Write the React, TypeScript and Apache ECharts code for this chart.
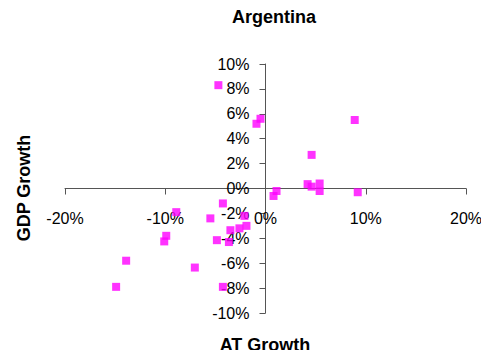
import React, { useEffect, useRef } from "react";
import * as echarts from "echarts";

const chartTitle = "Argentina";
const xTitle = "AT Growth";
const yTitle = "GDP Growth";

// AT growth (x) and GDP growth (y), as fractions
const atGrowth = [
  -0.047, -0.009, -0.005, 0.089, 0.046, 0.042, 0.046, 0.054, 0.054, 0.092,
  0.011, 0.008, -0.0425, -0.089, -0.055, -0.021, -0.019, -0.035, -0.026,
  -0.0485, -0.0365, -0.099, -0.101, -0.139, -0.0705, -0.149, -0.0425,
];
const gdpGrowth = [
  0.083, 0.052, 0.056, 0.055, 0.027, 0.0035, 0.0015, 0.004, -0.002, -0.003,
  -0.002, -0.006, -0.012, -0.019, -0.024, -0.022, -0.03, -0.0335, -0.032,
  -0.0415, -0.043, -0.038, -0.0425, -0.058, -0.0635, -0.079, -0.079,
];

const xMin = -0.2, xMax = 0.2, xStep = 0.1;
const yMin = -0.1, yMax = 0.1, yStep = 0.02;

const pct = (v: number) => `${Math.round(v * 100)}%`;

const W = 489, H = 358;
const G = { left: 65, right: 23, top: 64, bottom: 45 };
// axes cross at (0,0): shift each axis from the grid edge to the zero line
const gridW = W - G.left - G.right;
const gridH = H - G.top - G.bottom;
const xAxisOffset = -gridH * ((0 - yMin) / (yMax - yMin));
const yAxisOffset = -gridW * ((0 - xMin) / (xMax - xMin));

export default function App() {
  const ref = useRef<HTMLDivElement>(null);
  useEffect(() => {
    if (!ref.current) return;
    const chart = echarts.init(ref.current, undefined, { renderer: "svg" });
    const font = "'Liberation Sans', Arial, sans-serif";
    chart.setOption({
      animation: false,
      backgroundColor: "#ffffff",
      title: {
        text: chartTitle,
        left: 269,
        textAlign: "center",
        top: 3,
        textStyle: { fontFamily: font, fontSize: 18, fontWeight: "bold", color: "#000" },
      },
      grid: { ...G, containLabel: false },
      xAxis: {
        type: "value",
        min: xMin,
        max: xMax,
        interval: xStep,
        position: "bottom",
        offset: xAxisOffset,
        axisLine: { onZero: false, lineStyle: { color: "#555", width: 1 } },
        axisTick: { show: true, inside: false, length: 6, lineStyle: { color: "#555" } },
        splitLine: { show: false },
        axisLabel: {
          formatter: pct,
          margin: 22,
          fontFamily: font,
          fontSize: 16,
          color: "#000",
          showMinLabel: true,
          showMaxLabel: true,
        },
      },
      yAxis: {
        type: "value",
        min: yMin,
        max: yMax,
        interval: yStep,
        position: "left",
        offset: yAxisOffset,
        axisLine: { onZero: false, lineStyle: { color: "#555", width: 1 } },
        axisTick: { show: true, inside: false, length: 6, lineStyle: { color: "#555" } },
        splitLine: { show: false },
        axisLabel: {
          formatter: pct,
          margin: 16,
          fontFamily: font,
          fontSize: 16,
          color: "#000",
          showMinLabel: true,
          showMaxLabel: true,
        },
      },
      graphic: [
        {
          type: "text",
          x: 265,
          y: 345,
          style: {
            text: xTitle,
            align: "center",
            verticalAlign: "middle",
            font: `bold 18px ${font}`,
            fill: "#000",
          },
        },
        {
          type: "text",
          x: 24,
          y: 188,
          rotation: Math.PI / 2,
          style: {
            text: yTitle,
            align: "center",
            verticalAlign: "middle",
            font: `bold 18px ${font}`,
            fill: "#000",
          },
        },
      ],
      series: [
        {
          type: "scatter",
          symbol: "rect",
          symbolSize: 8,
          itemStyle: { color: "#ff00ff" },
          data: atGrowth.map((x, i) => [x, gdpGrowth[i]]),
        },
      ],
    });
    return () => chart.dispose();
  }, []);
  return <div ref={ref} style={{ width: W, height: H, margin: -8 }} />;
}
